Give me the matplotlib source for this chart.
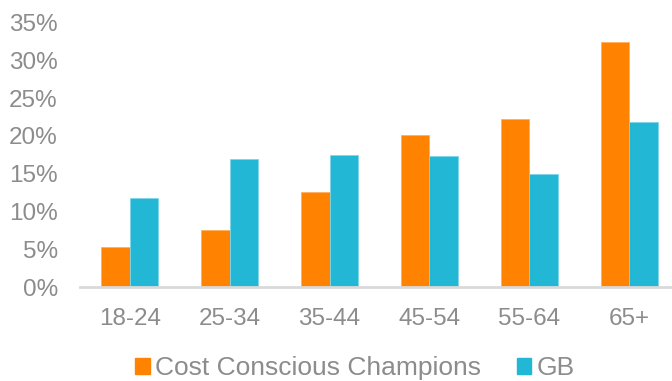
import numpy as np
import matplotlib

matplotlib.use("Agg")
import matplotlib.pyplot as plt
from matplotlib.patches import Patch

plt.rcParams["font.family"] = ["Liberation Sans", "DejaVu Sans"]

age_groups = ["18-24", "25-34", "35-44", "45-54", "55-64", "65+"]
champions = [5.3, 7.6, 12.6, 20.1, 22.2, 32.4]
gb = [11.8, 16.9, 17.5, 17.4, 14.9, 21.8]

ORANGE = "#FF8200"
BLUE = "#23B7D6"
GREY = "#8C8C8C"

fig = plt.figure(figsize=(6.72, 3.81), dpi=100)
ax = fig.add_axes([80 / 672, 1 - 287 / 381, 599 / 672, (287 - 22.7) / 381])

x = np.arange(len(age_groups))
w = 0.285
ax.bar(x - w / 2, champions, w, color=ORANGE, edgecolor="#FFB060", linewidth=0.6)
ax.bar(x + w / 2, gb, w, color=BLUE, edgecolor="#7FD6EA", linewidth=0.6)

ax.set_xlim(-0.5, 5.5)
ax.set_ylim(0, 35)
ax.set_yticks(np.arange(0, 36, 5))
ax.set_yticklabels([f"{v}%" for v in range(0, 36, 5)])
ax.set_xticks(x)
ax.set_xticklabels(age_groups)
ax.tick_params(axis="both", length=0, labelsize=17.5, colors=GREY)
ax.tick_params(axis="y", pad=16)
ax.tick_params(axis="x", pad=15)

for s in ["top", "right", "left"]:
    ax.spines[s].set_visible(False)
ax.spines["bottom"].set_color("#D9D9D9")
ax.spines["bottom"].set_linewidth(2)

handles = [Patch(color=ORANGE, label="Cost Conscious Champions"),
           Patch(color=BLUE, label="GB")]
fig.legend(handles=handles, loc="center", bbox_to_anchor=(355 / 672, 1 - 368 / 381),
           ncol=2, frameon=False, fontsize=19, labelcolor=GREY,
           handlelength=0.55, handleheight=0.55, handletextpad=0.2,
           columnspacing=1.36, borderpad=0)

fig.savefig("out.png", dpi=100)
